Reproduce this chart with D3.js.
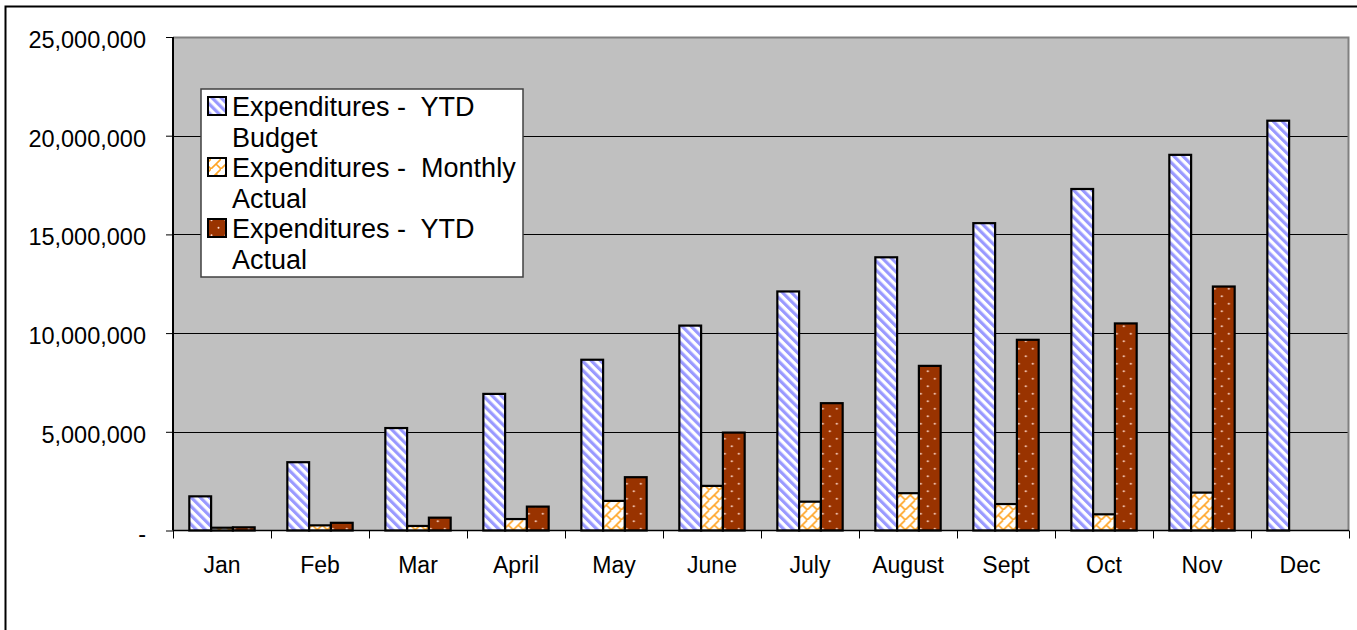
<!DOCTYPE html>
<html>
<head>
<meta charset="utf-8">
<script src="https://cdn.jsdelivr.net/npm/d3@7"></script>
<style>
  body { margin: 0; background: #fff; }
  svg { display: block; font-family: "Liberation Sans", Arial, sans-serif; }
</style>
</head>
<body>
<svg width="1357" height="630"></svg>
<script>
// data
var months = ['Jan', 'Feb', 'Mar', 'April', 'May', 'June', 'July', 'August', 'Sept', 'Oct', 'Nov', 'Dec'];
var seriesNames = ['Expenditures -  YTD Budget', 'Expenditures -  Monthly Actual', 'Expenditures -  YTD Actual'];
var ytdBudget = [1730000, 3460000, 5190000, 6920000, 8650000, 10380000, 12110000, 13840000, 15570000, 17300000, 19030000, 20760000];
var monthlyActual = [140000, 260000, 230000, 580000, 1500000, 2260000, 1460000, 1890000, 1340000, 820000, 1920000, 0];
var ytdActual = [160000, 390000, 650000, 1210000, 2700000, 4960000, 6450000, 8340000, 9660000, 10490000, 12360000, 0];
var yTicks = [0, 5000000, 10000000, 15000000, 20000000, 25000000];

// plot box
var pLeft = 173, pRight = 1349, pTop = 37, pBottom = 530.5;

var svg = d3.select('svg');

// outer frame
svg.append('rect').attr('x', 5.5).attr('y', 6.5).attr('width', 1370).attr('height', 650)
  .attr('fill', '#fff').attr('stroke', '#000').attr('stroke-width', 2);

// patterns
var defs = svg.append('defs');
var p1 = defs.append('pattern').attr('id', 'pat_budget').attr('patternUnits', 'userSpaceOnUse')
  .attr('width', 6.4).attr('height', 6.4).attr('patternTransform', 'rotate(-45)');
p1.append('rect').attr('width', 6.4).attr('height', 6.4).attr('fill', '#fff');
p1.append('rect').attr('width', 3.2).attr('height', 6.4).attr('fill', '#9999ff');

var p2 = defs.append('pattern').attr('id', 'pat_monthly').attr('patternUnits', 'userSpaceOnUse')
  .attr('width', 10).attr('height', 10);
p2.append('rect').attr('width', 10).attr('height', 10).attr('fill', '#fff');
p2.append('path').attr('d', 'M0,10 L10,0 M5,5 L10,10 M-5,5 L0,10')
  .attr('stroke', '#ffa526').attr('stroke-width', 1.6).attr('fill', 'none');

var p3 = defs.append('pattern').attr('id', 'pat_ytd').attr('patternUnits', 'userSpaceOnUse')
  .attr('width', 14).attr('height', 15);
p3.append('rect').attr('width', 14).attr('height', 15).attr('fill', '#993300');
p3.append('circle').attr('cx', 3.5).attr('cy', 3.7).attr('r', 1).attr('fill', '#ffd9cc');
p3.append('circle').attr('cx', 10.5).attr('cy', 11.2).attr('r', 1).attr('fill', '#ffd9cc');

var fills = ['url(#pat_budget)', 'url(#pat_monthly)', 'url(#pat_ytd)'];
var seriesData = [ytdBudget, monthlyActual, ytdActual];

// scales
var x = d3.scaleBand().domain(months).range([pLeft, pRight]).paddingInner(1 / 3).paddingOuter(1 / 6);
var xs = d3.scaleBand().domain(d3.range(seriesData.length)).range([0, x.bandwidth()]);
var xIdx = d3.scaleLinear().domain([0, months.length]).range([pLeft, pRight]);
var y = d3.scaleLinear().domain([0, 25000000]).range([pBottom, pTop]);

// plot area
svg.append('rect').attr('x', pLeft).attr('y', pTop).attr('width', pRight - pLeft).attr('height', pBottom - pTop)
  .attr('fill', '#c0c0c0');

// gridlines
svg.append('g').selectAll('line').data(yTicks.filter(function(d) { return d > 0 && d < 25000000; }))
  .join('line')
  .attr('x1', pLeft).attr('x2', pRight)
  .attr('y1', function(d) { return Math.round(y(d)) + 0.5; })
  .attr('y2', function(d) { return Math.round(y(d)) + 0.5; })
  .attr('stroke', '#000').attr('stroke-width', 1);

// plot border top/right
svg.append('path').attr('d', 'M' + pLeft + ',' + (pTop + 0.5) + ' H' + (pRight - 0.5) + ' V' + pBottom)
  .attr('fill', 'none').attr('stroke', '#808080').attr('stroke-width', 2);

// bars
var groups = svg.append('g').selectAll('g').data(months).join('g')
  .attr('transform', function(d) { return 'translate(' + x(d) + ',0)'; });
groups.selectAll('rect')
  .data(function(d, i) { return seriesData.map(function(s, k) { return { k: k, v: s[i] }; }).filter(function(e) { return e.v > 0; }); })
  .join('rect')
  .attr('x', function(d) { return xs(d.k); })
  .attr('y', function(d) { return y(d.v); })
  .attr('width', xs.bandwidth())
  .attr('height', function(d) { return pBottom - y(d.v); })
  .attr('fill', function(d) { return fills[d.k]; })
  .attr('stroke', '#000').attr('stroke-width', 2.2);

// y axis
var yAxis = d3.axisLeft(y).tickValues(yTicks).tickSize(7).tickPadding(20)
  .tickFormat(function(d) { return d === 0 ? '-' : d3.format(',')(d); });
var gy = svg.append('g').attr('transform', 'translate(' + pLeft + ',0)').call(yAxis);
gy.select('.domain').attr('stroke', '#000').attr('stroke-width', 2).attr('d', 'M0,' + pTop + 'V' + pBottom);
gy.selectAll('.tick line').attr('stroke', '#000');
gy.selectAll('.tick text').attr('font-size', 23.5).attr('fill', '#000').attr('dy', '0.45em')
  .attr('font-family', '"Liberation Sans", Arial, sans-serif');

// x axis: ticks at category boundaries, labels centred
var xAxis = d3.axisBottom(xIdx).tickValues(d3.range(months.length + 1)).tickSize(8).tickFormat('');
var gx = svg.append('g').attr('transform', 'translate(0,' + pBottom + ')').call(xAxis);
gx.select('.domain').attr('stroke', '#000').attr('stroke-width', 1.5).attr('d', 'M' + pLeft + ',0H' + pRight);
gx.selectAll('.tick line').attr('stroke', '#000');

var xLab = d3.axisBottom(x).tickSize(0).tickPadding(26);
var gxl = svg.append('g').attr('transform', 'translate(0,' + pBottom + ')').call(xLab);
gxl.select('.domain').remove();
gxl.selectAll('.tick text').attr('font-size', 23).attr('fill', '#000')
  .attr('font-family', '"Liberation Sans", Arial, sans-serif');

// legend
var leg = svg.append('g').attr('transform', 'translate(201,89)');
leg.append('rect').attr('width', 322).attr('height', 188).attr('fill', '#fff')
  .attr('stroke', '#404040').attr('stroke-width', 1.5);
seriesNames.forEach(function(name, i) {
  var cut = name.lastIndexOf(' ');
  var ey = 8 + i * 61;
  leg.append('rect').attr('x', 7).attr('y', ey).attr('width', 18).attr('height', 18)
    .attr('fill', fills[i]).attr('stroke', '#000').attr('stroke-width', 2);
  var t = leg.append('text').attr('y', ey + 19).attr('font-size', 27).attr('fill', '#000')
    .style('white-space', 'pre');
  t.append('tspan').attr('x', 31).text(name.substring(0, cut));
  t.append('tspan').attr('x', 31).attr('dy', 30.5).text(name.substring(cut + 1));
});
</script>
</body>
</html>
